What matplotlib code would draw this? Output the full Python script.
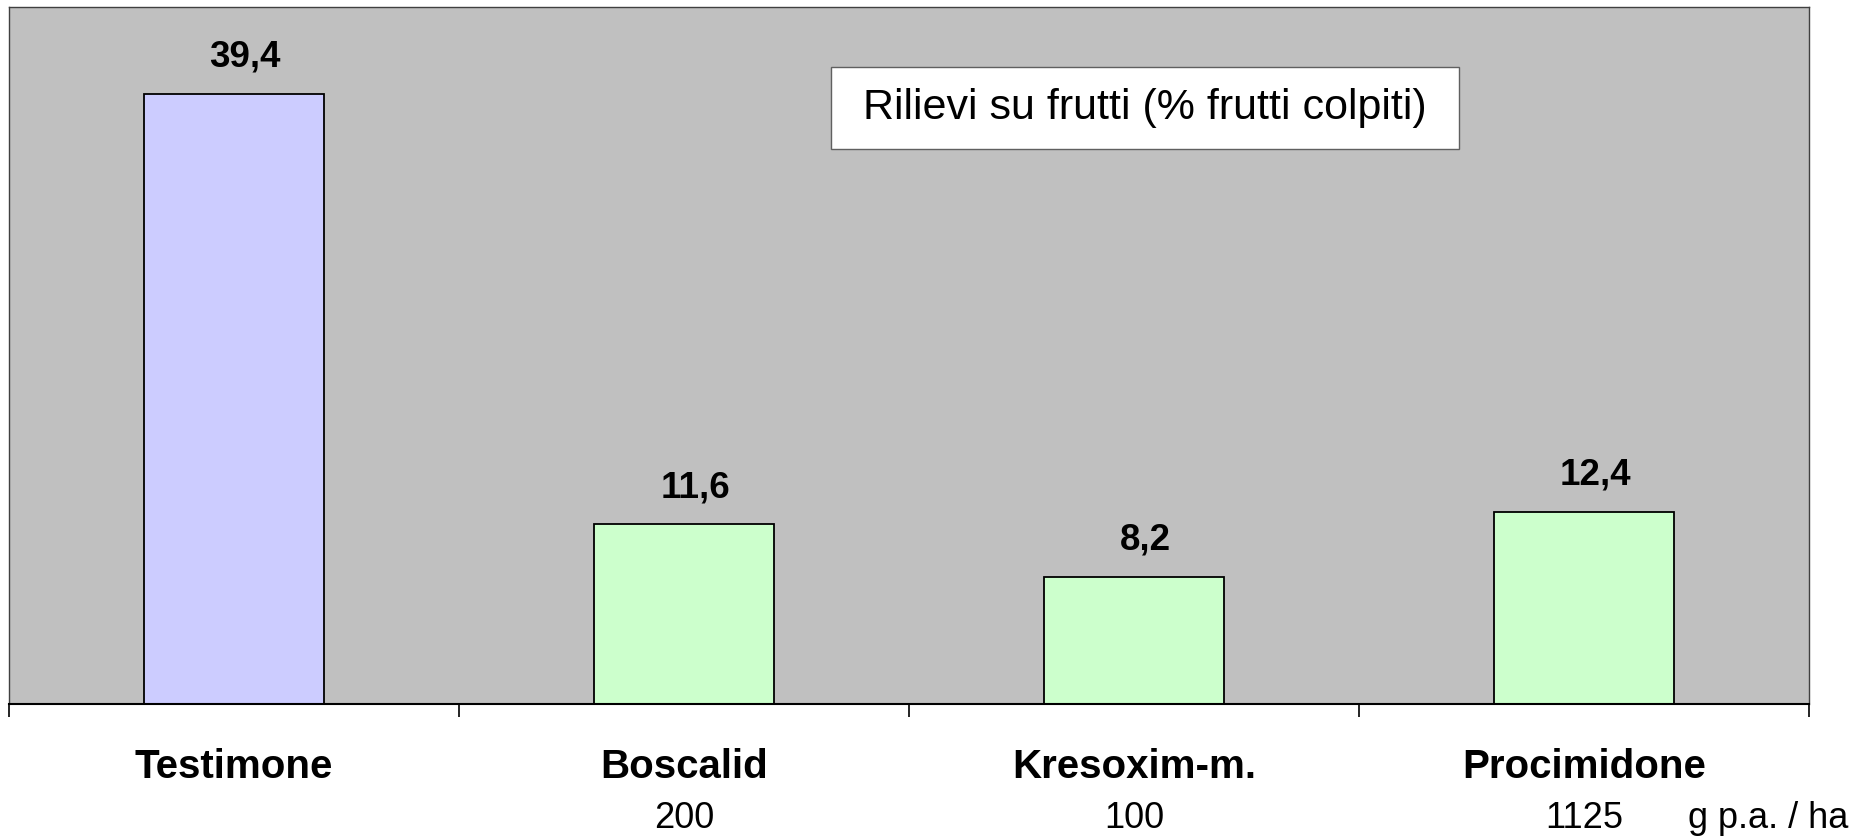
import matplotlib
matplotlib.use("Agg")
import matplotlib.pyplot as plt
from matplotlib.patches import Rectangle

plt.rcParams['font.family'] = ['Liberation Sans', 'DejaVu Sans']

# data
trattamenti = ["Testimone", "Boscalid", "Kresoxim-m.", "Procimidone"]
dosi = ["", "200", "100", "1125"]
frutti_colpiti = [39.4, 11.6, 8.2, 12.4]
colori = ["#CCCCFF", "#CCFFCC", "#CCFFCC", "#CCFFCC"]

fig = plt.figure(figsize=(18.74, 8.4), dpi=100)
ax = fig.add_axes([9/1874, 1 - 704/840, 1800/1874, 697/840])
ax.set_facecolor("#C0C0C0")

x = list(range(len(trattamenti)))
bars = ax.bar(x, frutti_colpiti, width=0.4, color=colori, edgecolor="black", linewidth=1.3, zorder=2)

# etichette valori (virgola decimale)
for xi, v in zip(x, frutti_colpiti):
    ax.annotate(("%.1f" % v).replace(".", ","), xy=(xi, v), xytext=(8, 19.5),
                textcoords="offset points", ha="center", va="baseline",
                fontsize=26.5, fontweight="bold")

ax.set_xlim(-0.5, len(trattamenti) - 0.5)
ax.set_ylim(0, 45)
ax.set_yticks([])

# tick ai confini delle categorie
ax.set_xticks([i - 0.5 for i in range(len(trattamenti) + 1)])
ax.set_xticklabels([])
ax.tick_params(axis="x", which="major", direction="out", length=9.5, width=1.2, color="black")

# nomi e dosi sotto l'asse
for xi, nome, dose in zip(x, trattamenti, dosi):
    ax.annotate(nome, xy=(xi, -0.106), xycoords=("data", "axes fraction"),
                ha="center", va="baseline", fontsize=29, fontweight="bold", annotation_clip=False)
    if dose:
        ax.annotate(dose, xy=(xi, -0.178), xycoords=("data", "axes fraction"),
                    ha="center", va="baseline", fontsize=26, annotation_clip=False)
ax.annotate("g p.a. / ha", xy=(3.231, -0.178), xycoords=("data", "axes fraction"),
            ha="left", va="baseline", fontsize=26, annotation_clip=False)

for side in ["left", "top", "right"]:
    ax.spines[side].set_color("#404040")
    ax.spines[side].set_linewidth(1.0)
ax.spines["bottom"].set_color("black")
ax.spines["bottom"].set_linewidth(1.5)

# riquadro titolo
ax.add_patch(Rectangle((0.4567, 0.796), 0.349, 0.1176, transform=ax.transAxes,
                       facecolor="white", edgecolor="#606060", linewidth=1.0, zorder=3))
ax.text(0.4567 + 0.349/2, 0.796 + 0.1176/2, "Rilievi su frutti (% frutti colpiti)",
        transform=ax.transAxes, ha="center", va="center", fontsize=31, zorder=4)

fig.savefig("out.png", dpi=100, facecolor="white")
